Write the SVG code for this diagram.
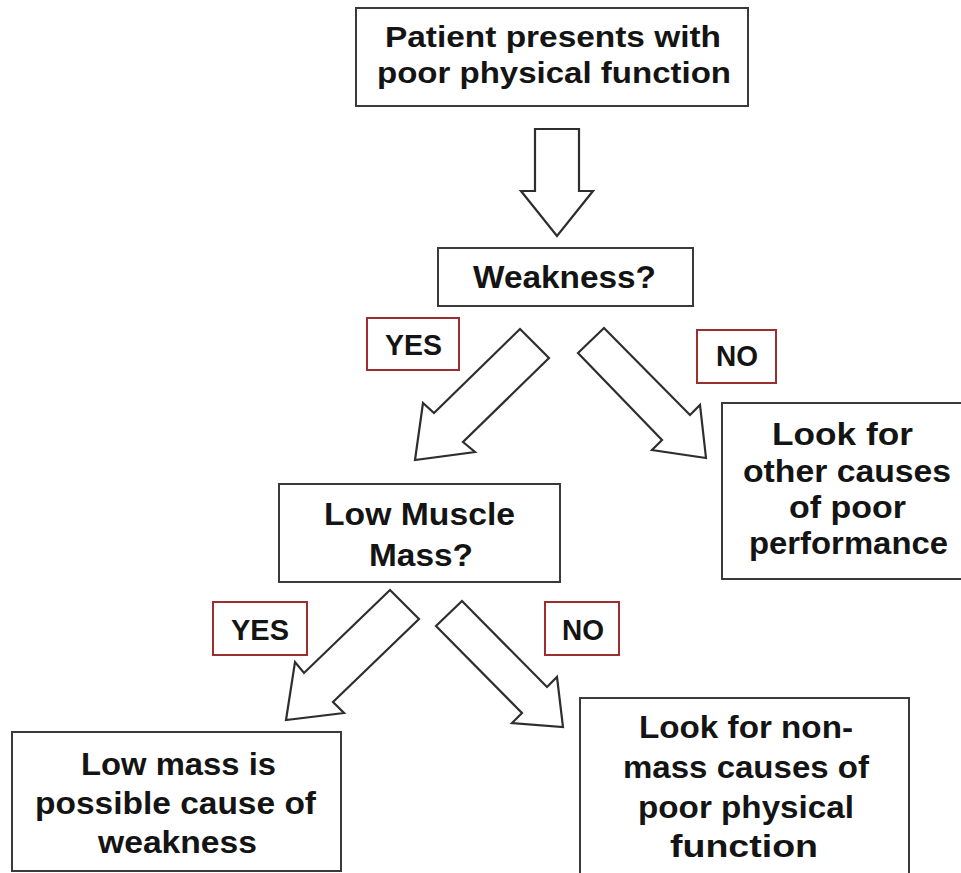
<svg xmlns="http://www.w3.org/2000/svg" width="961" height="873" viewBox="0 0 961 873">
<style>
.box{fill:#fff;stroke:#3a3a3a;stroke-width:2}
.lbl{fill:#fff;stroke:#9b2f2f;stroke-width:2}
.arr{fill:#fff;stroke:#2e2e2e;stroke-width:2.2;stroke-linejoin:miter}
text{font-family:"Liberation Sans",Arial,sans-serif;font-weight:bold;font-size:31px;fill:#141414}
.sm{font-size:29px}
</style>
<rect width="961" height="873" fill="#fff"/>
<g id="connectors">
<polygon class="arr" points="535,129 579,129 579,191 593,191 557,236 521,191 535,191"/>
<polygon class="arr" points="520,329 549,358 463,442 475,452 415,460 423,403 434,413"/>
<polygon class="arr" points="604,328 578,353 662,440 652,450 706,458 700,405 690,415"/>
<polygon class="arr" points="390,590 419,619 333,702 344,713 286,720 295,662 304,673"/>
<polygon class="arr" points="462,601 436,626 522,713 512,723 563,727 557,677 547,687"/>
</g>
<g id="start">
<rect class="box" x="356" y="8" width="392" height="98"/>
<text class="sm" x="385" y="47" textLength="336" lengthAdjust="spacingAndGlyphs">Patient presents with</text>
<text class="sm" x="377" y="83" textLength="354" lengthAdjust="spacingAndGlyphs">poor physical function</text>
</g>
<g id="weakness">
<rect class="box" x="438" y="248" width="255" height="58"/>
<text x="473" y="288" textLength="183" lengthAdjust="spacingAndGlyphs">Weakness?</text>
</g>
<g id="yes1">
<rect class="lbl" x="367" y="318" width="92" height="52"/>
<text class="sm" x="385" y="355" textLength="57" lengthAdjust="spacingAndGlyphs">YES</text>
</g>
<g id="no1">
<rect class="lbl" x="697" y="330" width="79" height="53"/>
<text class="sm" x="716" y="366" textLength="42" lengthAdjust="spacingAndGlyphs">NO</text>
</g>
<g id="other">
<rect class="box" x="722" y="403" width="242" height="176"/>
<text x="772" y="445" textLength="141" lengthAdjust="spacingAndGlyphs">Look for</text>
<text x="743" y="482" textLength="208" lengthAdjust="spacingAndGlyphs">other causes</text>
<text x="789" y="518" textLength="117" lengthAdjust="spacingAndGlyphs">of poor</text>
<text x="749" y="554" textLength="199" lengthAdjust="spacingAndGlyphs">performance</text>
</g>
<g id="lowmuscle">
<rect class="box" x="279" y="484" width="281" height="98"/>
<text x="324" y="525" textLength="191" lengthAdjust="spacingAndGlyphs">Low Muscle</text>
<text x="369" y="566" textLength="104" lengthAdjust="spacingAndGlyphs">Mass?</text>
</g>
<g id="yes2">
<rect class="lbl" x="213" y="602" width="94" height="53"/>
<text class="sm" x="231" y="640" textLength="58" lengthAdjust="spacingAndGlyphs">YES</text>
</g>
<g id="no2">
<rect class="lbl" x="545" y="602" width="74" height="53"/>
<text class="sm" x="562" y="640" textLength="42" lengthAdjust="spacingAndGlyphs">NO</text>
</g>
<g id="lowmass">
<rect class="box" x="12" y="732" width="329" height="139"/>
<text x="81" y="775" textLength="195" lengthAdjust="spacingAndGlyphs">Low mass is</text>
<text x="35" y="814" textLength="281" lengthAdjust="spacingAndGlyphs">possible cause of</text>
<text x="98" y="853" textLength="159" lengthAdjust="spacingAndGlyphs">weakness</text>
</g>
<g id="nonmass">
<rect class="box" x="580" y="698" width="329" height="185"/>
<text x="639" y="738" textLength="214" lengthAdjust="spacingAndGlyphs">Look for non-</text>
<text x="623" y="778" textLength="246" lengthAdjust="spacingAndGlyphs">mass causes of</text>
<text x="638" y="818" textLength="216" lengthAdjust="spacingAndGlyphs">poor physical</text>
<text x="670" y="857" textLength="148" lengthAdjust="spacingAndGlyphs">function</text>
</g>
</svg>
